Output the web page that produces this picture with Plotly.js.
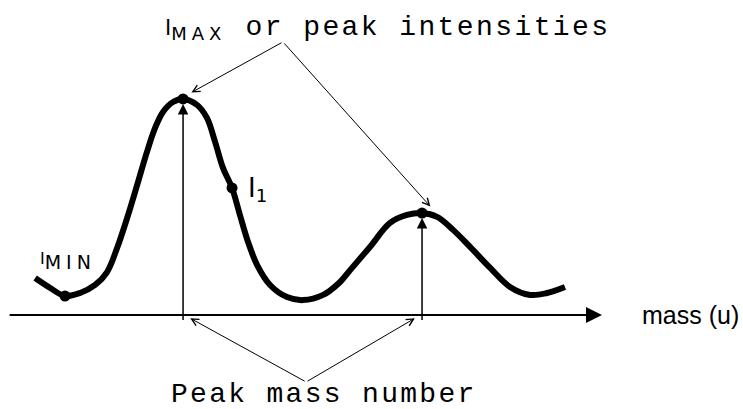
<!DOCTYPE html>
<html>
<head>
<meta charset="utf-8">
<script src="https://cdn.plot.ly/plotly-3.0.1.min.js"></script>
<style>
  html, body { margin: 0; padding: 0; background: #fff; }
  #chart { width: 743px; height: 409px; }
</style>
</head>
<body>
<div id="chart"></div>
<script>
// --- data (mass in u, intensity relative to first peak) ---
const mass = [0.381, 0.444, 0.506, 0.569, 0.632, 0.682, 0.724, 0.766, 0.808, 0.849, 0.883, 0.916, 0.958, 1.0,
              1.059, 1.100, 1.134, 1.167, 1.205, 1.238, 1.272, 1.310, 1.364, 1.435, 1.502, 1.586, 1.657,
              1.699, 1.782, 1.866, 1.937, 2.0, 2.063, 2.130, 2.201, 2.285, 2.368, 2.452, 2.523, 2.598];
const intensity = [0.171, 0.125, 0.088, 0.102, 0.139, 0.199, 0.310, 0.449, 0.602, 0.755, 0.866, 0.940, 0.986, 1.0,
                   0.972, 0.912, 0.801, 0.681, 0.588, 0.463, 0.338, 0.231, 0.139, 0.083, 0.069, 0.093, 0.153,
                   0.208, 0.315, 0.426, 0.463, 0.472, 0.454, 0.394, 0.315, 0.218, 0.130, 0.093, 0.102, 0.130];

// marked points: I_MIN, first peak, I_1, second peak
const markMass = [0.506, 1.0, 1.205, 2.0];
const markIntensity = [0.088, 1.0, 0.588, 0.472];

const peakMass = [1, 2];
const peakIntensity = [1.0, 0.472];

const axisStart = 0.268;
const axisEnd = 2.753;

const curve = {
  x: mass,
  y: intensity,
  mode: 'lines',
  type: 'scatter',
  line: { color: '#000', width: 6, shape: 'spline', smoothing: 1 },
  hoverinfo: 'skip'
};

const dots = {
  x: markMass,
  y: markIntensity,
  mode: 'markers',
  type: 'scatter',
  marker: { color: '#000', size: 11 },
  hoverinfo: 'skip'
};

const sans = 'DejaVu Sans, Liberation Sans, sans-serif';
const mono = 'Liberation Mono';

const annotations = [];

// mass axis with arrow
annotations.push({
  x: axisEnd, y: 0, ax: axisStart, ay: 0, axref: 'x', ayref: 'y',
  text: '', showarrow: true, arrowhead: 2, arrowsize: 1.6, arrowwidth: 2, arrowcolor: '#000'
});

// vertical arrows up to each peak
peakMass.forEach((m, i) => {
  annotations.push({
    x: m, y: peakIntensity[i], ax: m, ay: -0.03, axref: 'x', ayref: 'y',
    text: '', showarrow: true, arrowhead: 2, arrowsize: 1.4, arrowwidth: 1.5,
    arrowcolor: '#000', standoff: 5
  });
});

// pointers from the top label to the peaks
const topApex = { x: 1.418, y: 1.264 };
peakMass.forEach((m, i) => {
  annotations.push({
    x: m + 0.035, y: peakIntensity[i] + 0.03, ax: topApex.x, ay: topApex.y, axref: 'x', ayref: 'y',
    text: '', showarrow: true, arrowhead: 5, arrowsize: 1.4, arrowwidth: 1, arrowcolor: '#000'
  });
});

// pointers from the bottom label to the peak positions on the axis
const bottomApex = { x: 1.515, y: -0.31 };
peakMass.forEach((m, i) => {
  annotations.push({
    x: m + 0.03 - i * 0.06, y: -0.015, ax: bottomApex.x, ay: bottomApex.y, axref: 'x', ayref: 'y',
    text: '', showarrow: true, arrowhead: 5, arrowsize: 1.4, arrowwidth: 1, arrowcolor: '#000'
  });
});

// labels
annotations.push({
  x: 0.915, y: 1.33, xanchor: 'left', yanchor: 'middle', showarrow: false,
  font: { family: sans, size: 26, color: '#000' },
  text: '<span style="font-size:21px">I</span><sub><span style="font-size:18px;letter-spacing:5px">MAX</span></sub>' +
        '<span style="font-family:Liberation Mono;font-size:28px;letter-spacing:2.4px"> or peak intensities</span>'
});
annotations.push({
  x: 0.395, y: 0.25, xanchor: 'left', yanchor: 'middle', showarrow: false,
  font: { family: sans, size: 26, color: '#000' },
  text: '<span style="font-size:16px">I</span><sub><span style="font-size:19px;letter-spacing:5px">MIN</span></sub>'
});
annotations.push({
  x: 1.265, y: 0.583, xanchor: 'left', yanchor: 'middle', showarrow: false,
  font: { family: sans, size: 26, color: '#000' },
  text: 'I<sub>1</sub>'
});
annotations.push({
  x: 2.912, y: 0, xanchor: 'left', yanchor: 'middle', showarrow: false,
  font: { family: 'Liberation Sans, Arial, sans-serif', size: 25, color: '#000' },
  text: 'mass (u)'
});
annotations.push({
  x: 1.59, y: -0.435, xanchor: 'center', yanchor: 'bottom', yshift: -3, showarrow: false,
  font: { family: mono, size: 28, color: '#000' },
  text: '<span style="letter-spacing:2.3px">Peak mass number</span>'
});

const layout = {
  width: 743,
  height: 409,
  margin: { l: 0, r: 0, t: 0, b: 0 },
  paper_bgcolor: '#fff',
  plot_bgcolor: '#fff',
  showlegend: false,
  xaxis: { range: [0.234, 3.343], visible: false, fixedrange: true },
  yaxis: { range: [-0.435, 1.458], visible: false, fixedrange: true },
  annotations: annotations
};

Plotly.newPlot('chart', [curve, dots], layout, { displayModeBar: false, staticPlot: true });
</script>
</body>
</html>
